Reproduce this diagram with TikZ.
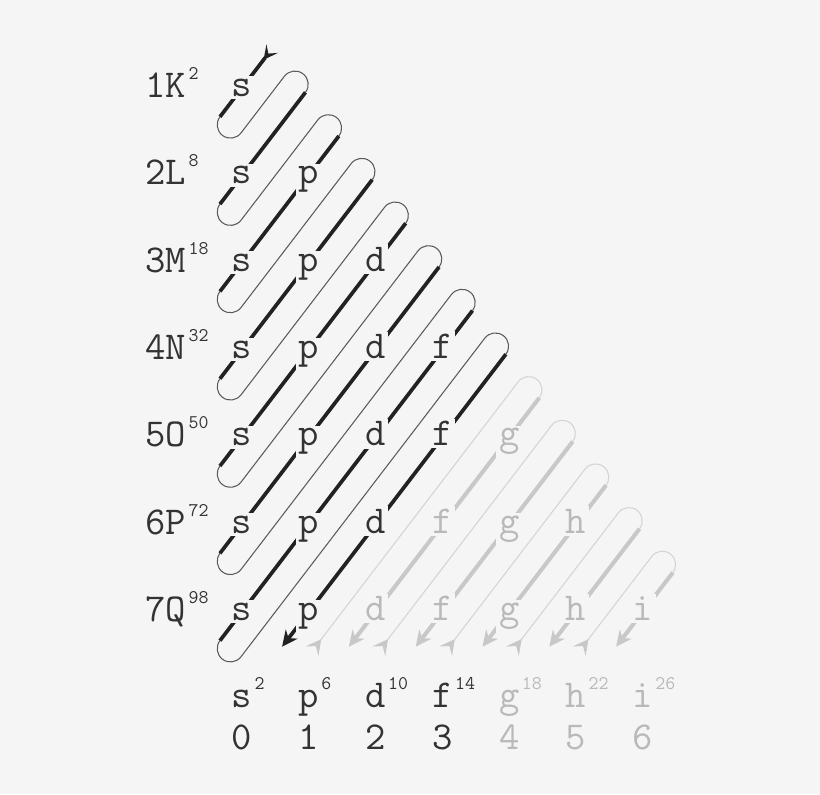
\documentclass[tikz,border=0pt]{standalone}
\usepackage{fontspec}
\usepackage{tikz}
\usetikzlibrary{calc,arrows.meta}

\definecolor{bg}{RGB}{245,245,245}
\definecolor{ink}{RGB}{51,51,51}
\definecolor{fade}{RGB}{185,185,185}
\definecolor{wire}{RGB}{34,34,34}
\definecolor{wirethin}{RGB}{90,90,90}
\definecolor{ghost}{RGB}{200,200,200}
\definecolor{ghostthin}{RGB}{212,212,212}

\tikzset{
  orb/.style={font=\fontsize{22.5}{27}\selectfont\ttfamily, text=ink, fill=bg, inner sep=1.5pt, anchor=base, yshift=-0.17cm},
  shell/.style={font=\fontsize{22.5}{27}\selectfont\ttfamily, text=ink, inner sep=0pt, anchor=base west, yshift=-0.19cm},
  foot/.style={font=\fontsize{22.5}{27}\selectfont\ttfamily, text=ink, inner sep=0pt, anchor=base},
  capnum/.style={font=\fontsize{11}{13}\selectfont\ttfamily, text=ink, inner sep=0pt, anchor=base west},
  faded/.style={text=fade},
  thickwire/.style={draw=wire, line width=2.1pt},
  thinwire/.style={draw=wirethin, line width=0.6pt},
  ghostwire/.style={draw=ghost, line width=2.3pt},
  ghostthinwire/.style={draw=ghostthin, line width=0.6pt},
}

\begin{document}
\begin{tikzpicture}[x=1.336cm, y=1.746cm]
    \fill[bg] (-4.84cm,1.76cm) rectangle (11.56cm,-14.12cm);
    \useasboundingbox (-4.84cm,1.76cm) rectangle (11.56cm,-14.12cm);

    % serpentine, dark part
    \foreach \m in {1,...,7}{
        \pgfmathsetmacro{\tx}{(\m+1)/2-0.05}
        \pgfmathsetmacro{\ty}{0.95-(\m+1)/2}
        \draw[thinwire] (-0.33,{0.67-\m}) arc[start angle=142.58, end angle=322.58, radius=0.2652cm]
            -- ($(\tx,\ty)+(142.58:0.5304cm)$) arc[start angle=142.58, end angle=-37.42, radius=0.2652cm];
    }
    \draw[thickwire, {Stealth[reversed, length=8pt, width=8pt, inset=3.5pt]}-] (0.45,0.45) -- (-0.33,-0.33);
    \foreach \m in {2,...,7}{
        \pgfmathsetmacro{\tx}{\m/2-0.05}
        \pgfmathsetmacro{\ty}{0.95-\m/2}
        \draw[thickwire] (\tx,\ty) -- (-0.33,{0.67-\m});
    }
    \draw[thickwire, -{Stealth[length=9pt, width=8.5pt]}] (3.95,-3.05) -- (0.6,-6.4);

    % serpentine, faded part
    \foreach \m in {9,...,13}{
        \pgfmathsetmacro{\tx}{\m/2-0.05}
        \pgfmathsetmacro{\ty}{0.95-\m/2}
        \draw[ghostthinwire, {Stealth[reversed, length=8.5pt, width=9pt, inset=3.5pt, color=ghost]}-] ({\m-7.95},-6.45)
            -- ($(\tx,\ty)+(142.58:0.5304cm)$) arc[start angle=142.58, end angle=-37.42, radius=0.2652cm];
        \draw[ghostwire, -{Stealth[length=9pt, width=8.5pt]}] (\tx,\ty) -- ({\m-7.4},-6.4);
    }

    % subshells
    \node[orb] (s1) at (0,0) {s};
    \node[orb] (s2) at (0,-1) {s};
    \node[orb] (p2) at (1,-1) {p};
    \node[orb] (s3) at (0,-2) {s};
    \node[orb] (p3) at (1,-2) {p};
    \node[orb] (d3) at (2,-2) {d};
    \node[orb] (s4) at (0,-3) {s};
    \node[orb] (p4) at (1,-3) {p};
    \node[orb] (d4) at (2,-3) {d};
    \node[orb] (f4) at (3,-3) {f};
    \node[orb] (s5) at (0,-4) {s};
    \node[orb] (p5) at (1,-4) {p};
    \node[orb] (d5) at (2,-4) {d};
    \node[orb] (f5) at (3,-4) {f};
    \node[orb,faded] (g5) at (4,-4) {g};
    \node[orb] (s6) at (0,-5) {s};
    \node[orb] (p6) at (1,-5) {p};
    \node[orb] (d6) at (2,-5) {d};
    \node[orb,faded] (f6) at (3,-5) {f};
    \node[orb,faded] (g6) at (4,-5) {g};
    \node[orb,faded] (h6) at (5,-5) {h};
    \node[orb] (s7) at (0,-6) {s};
    \node[orb] (p7) at (1,-6) {p};
    \node[orb,faded] (d7) at (2,-6) {d};
    \node[orb,faded] (f7) at (3,-6) {f};
    \node[orb,faded] (g7) at (4,-6) {g};
    \node[orb,faded] (h7) at (5,-6) {h};
    \node[orb,faded] (i7) at (6,-6) {i};

    % shells
    \node[shell] (K) at (-1.45,0) {1K};
    \node[shell] (L) at (-1.45,-1) {2L};
    \node[shell] (M) at (-1.45,-2) {3M};
    \node[shell] (N) at (-1.45,-3) {4N};
    \node[shell] (O) at (-1.45,-4) {5O};
    \node[shell] (P) at (-1.45,-5) {6P};
    \node[shell] (Q) at (-1.45,-6) {7Q};
    \node[capnum] (eK) at ([xshift=1pt,yshift=0.36cm]K.base east) {2};
    \node[capnum] (eL) at ([xshift=1pt,yshift=0.36cm]L.base east) {8};
    \node[capnum] (eM) at ([xshift=1pt,yshift=0.36cm]M.base east) {18};
    \node[capnum] (eN) at ([xshift=1pt,yshift=0.36cm]N.base east) {32};
    \node[capnum] (eO) at ([xshift=1pt,yshift=0.36cm]O.base east) {50};
    \node[capnum] (eP) at ([xshift=1pt,yshift=0.36cm]P.base east) {72};
    \node[capnum] (eQ) at ([xshift=1pt,yshift=0.36cm]Q.base east) {98};

    % subshell capacities and l
    \node[foot] (bs) at (0,-7.1) {s};
    \node[foot] (bp) at (1,-7.1) {p};
    \node[foot] (bd) at (2,-7.1) {d};
    \node[foot] (bf) at (3,-7.1) {f};
    \node[foot,faded] (bg) at (4,-7.1) {g};
    \node[foot,faded] (bh) at (5,-7.1) {h};
    \node[foot,faded] (bi) at (6,-7.1) {i};
    \node[capnum] (es) at ([xshift=1pt,yshift=0.36cm]bs.base east) {2};
    \node[capnum] (ep) at ([xshift=1pt,yshift=0.36cm]bp.base east) {6};
    \node[capnum] (ed) at ([xshift=1pt,yshift=0.36cm]bd.base east) {10};
    \node[capnum] (ef) at ([xshift=1pt,yshift=0.36cm]bf.base east) {14};
    \node[capnum,faded] (eg) at ([xshift=1pt,yshift=0.36cm]bg.base east) {18};
    \node[capnum,faded] (eh) at ([xshift=1pt,yshift=0.36cm]bh.base east) {22};
    \node[capnum,faded] (ei) at ([xshift=1pt,yshift=0.36cm]bi.base east) {26};
    \node[foot] (l0) at (0,-7.58) {0};
    \node[foot] (l1) at (1,-7.58) {1};
    \node[foot] (l2) at (2,-7.58) {2};
    \node[foot] (l3) at (3,-7.58) {3};
    \node[foot,faded] (l4) at (4,-7.58) {4};
    \node[foot,faded] (l5) at (5,-7.58) {5};
    \node[foot,faded] (l6) at (6,-7.58) {6};

\end{tikzpicture}
\end{document}
